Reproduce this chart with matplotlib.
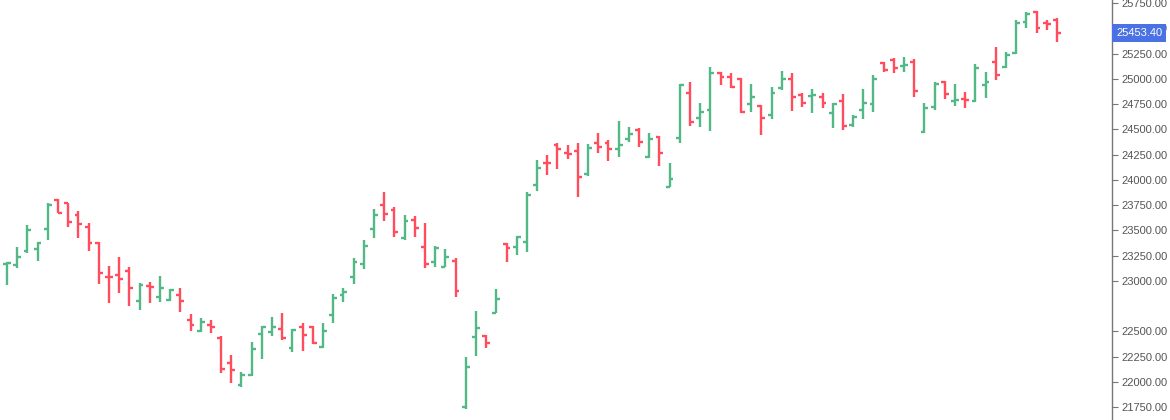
import matplotlib
matplotlib.use("Agg")
import matplotlib.pyplot as plt
import matplotlib.transforms as mtransforms
import numpy as np

plt.rcParams['font.family'] = ['Liberation Sans', 'DejaVu Sans']

opens = [23166, 23156, 23295, 23312, 23510, 23800, 23767, 23651, 23530, 23377,
         23041, 23058, 23100, 22803, 22949, 22837, 22810, 22860, 22612, 22506,
         22562, 22431, 22189, 21969, 22068, 22473, 22496, 22520, 22332, 22540,
         22540, 22342, 22662, 22860, 23041, 23163, 23513, 23750, 23701, 23427,
         23602, 23338, 23183, 23140, 23196, 21754, 22447, 22457, 22684, 23364,
         23338, 23387, 23949, 24169, 24345, 24268, 24288, 24057, 24361, 24367,
         24302, 24401, 24493, 24229, 24427, 23932, 24411, 24859, 24609, 24691,
         25060, 25015, 24995, 24750, 24731, 24642, 24906, 24995, 24840, 24830,
         24823, 24664, 24780, 24543, 24691, 24750, 25153, 25186, 25130, 25163,
         24470, 24724, 24971, 24780, 24800, 24780, 24939, 25169, 25120, 25252,
         25559, 25664, 25552, 25582]
highs = [23189, 23332, 23552, 23381, 23767, 23807, 23773, 23694, 23569, 23387,
         23147, 23239, 23134, 22975, 22991, 23048, 22919, 22926, 22671, 22632,
         22609, 22451, 22261, 22097, 22397, 22553, 22639, 22678, 22520, 22579,
         22553, 22579, 22869, 22926, 23223, 23404, 23711, 23876, 23734, 23651,
         23645, 23569, 23348, 23312, 23223, 22249, 22701, 22464, 22919, 23371,
         23447, 23876, 24196, 24246, 24361, 24345, 24361, 24354, 24466, 24394,
         24585, 24520, 24510, 24460, 24434, 24169, 24948, 24971, 24763, 25117,
         25070, 25054, 25005, 24948, 24741, 24916, 25080, 25060, 24862, 24894,
         24862, 24763, 24849, 24642, 24896, 25038, 25163, 25203, 25219, 25196,
         24757, 24971, 24978, 24945, 24866, 25143, 25064, 25318, 25262, 25582,
         25664, 25671, 25582, 25599]
lows = [22958, 23124, 23272, 23199, 23404, 23668, 23536, 23421, 23298, 22968,
        22783, 22882, 22751, 22711, 22783, 22793, 22803, 22694, 22506, 22496,
        22486, 22090, 21988, 21952, 22058, 22223, 22454, 22414, 22298, 22308,
        22374, 22332, 22585, 22793, 22965, 23117, 23421, 23592, 23437, 23404,
        23437, 23124, 23140, 23135, 22843, 21731, 22259, 22332, 22678, 23189,
        23256, 23288, 23892, 24048, 24104, 24203, 23833, 24038, 24268, 24189,
        24223, 24377, 24322, 24213, 24137, 23926, 24364, 24533, 24518, 24486,
        24939, 24906, 24658, 24674, 24444, 24599, 24889, 24684, 24724, 24658,
        24708, 24510, 24493, 24526, 24599, 24674, 25070, 25054, 25070, 24823,
        24460, 24691, 24800, 24734, 24714, 24773, 24813, 24988, 25104, 25242,
        25506, 25450, 25483, 25367]
closes = [23176, 23239, 23503, 23371, 23750, 23674, 23585, 23562, 23377, 23074,
          23035, 23015, 22926, 22958, 22939, 22926, 22909, 22803, 22558, 22592,
          22546, 22124, 22117, 22072, 22322, 22540, 22540, 22431, 22513, 22464,
          22387, 22506, 22827, 22892, 23189, 23348, 23651, 23658, 23480, 23592,
          23526, 23163, 23328, 23239, 22899, 22150, 22536, 22387, 22820, 23322,
          23437, 23850, 24114, 24163, 24302, 24255, 24031, 24312, 24328, 24302,
          24345, 24453, 24377, 24401, 24268, 24005, 24934, 24575, 24671, 25057,
          25015, 24916, 24674, 24823, 24609, 24862, 24995, 24823, 24757, 24840,
          24757, 24750, 24528, 24625, 24757, 24995, 25087, 25110, 25137, 24879,
          24714, 24945, 24846, 24790, 24790, 25110, 24965, 25038, 25236, 25549,
          25638, 25506, 25547, 25453.40]

tick_values = [21750, 22000, 22250, 22500, 23000, 23250, 23500, 23750, 24000,
               24250, 24500, 24750, 25000, 25250, 25500, 25750]
last_price = closes[-1]

UP = '#52b986'
DOWN = '#ff4d5e'

fig = plt.figure(figsize=(11.7, 4.2), dpi=100)
ax = fig.add_axes([0, 0, 1112 / 1170, 1])

n = len(opens)
x = np.arange(n)
colors = [UP if c >= o else DOWN for o, c in zip(opens, closes)]
tick_w = 0.38
ax.vlines(x, lows, highs, colors=colors, linewidth=1.7)
ax.hlines(opens, x - tick_w, x, colors=colors, linewidth=1.7)
ax.hlines(closes, x, x + tick_w, colors=colors, linewidth=1.7)

ax.set_xlim(-0.69, 108.4)
ax.set_ylim(21622, 25780)

for s in ['top', 'left', 'bottom']:
    ax.spines[s].set_visible(False)
ax.spines['right'].set_color('#777777')
ax.spines['right'].set_linewidth(1.0)
ax.set_xticks([])
ax.yaxis.tick_right()
ax.set_yticks(tick_values)
ax.set_yticklabels([f"{v:.2f}" for v in tick_values])
ax.tick_params(axis='y', length=4, width=0.8, color='#777777',
               labelcolor='#555555', labelsize=8, pad=3)

trans = mtransforms.blended_transform_factory(ax.transAxes, ax.transData)
ax.text(1.0 + 4 / 1112, last_price, f"{last_price:.2f}", transform=trans,
        ha='left', va='center', color='white', fontsize=8, clip_on=False,
        zorder=10,
        bbox=dict(boxstyle='square,pad=0.33', fc='#4a72e4', ec='none'))

fig.savefig('out.png', dpi=100)
